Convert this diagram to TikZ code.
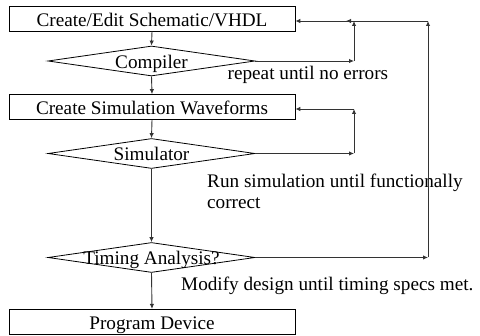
\documentclass[tikz,border=0pt]{standalone}
\usepackage{fontspec}
\setmainfont{Liberation Serif}
\usetikzlibrary{shapes.geometric,arrows.meta}
\tikzset{
  txt/.style={font=\fontsize{19.2}{21}\selectfont, inner sep=0pt},
  stepbox/.style={draw=black, line width=0.8pt, minimum width=286pt, minimum height=25pt,
    inner sep=0pt, text height=16pt, text depth=0pt, font=\fontsize{19.2}{21}\selectfont},
  decision/.style={draw=black, line width=0.8pt, shape=diamond, minimum width=207pt,
    minimum height=30pt, inner sep=0pt},
  dlabel/.style={font=\fontsize{19.2}{21}\selectfont, inner sep=0pt, text height=15pt, text depth=0pt},
  conn/.style={draw=black!80, line width=0.9pt, -{Latex[length=5pt,width=4.5pt]}},
  line/.style={draw=black!80, line width=0.9pt}
}
\begin{document}
\begin{tikzpicture}[x=1pt,y=-1pt]
\useasboundingbox (0,0) rectangle (480,336);
% boxes
\node[stepbox] (edit) at (152,18.5) {Create/Edit Schematic/VHDL};
\node[decision, label={[dlabel]center:Compiler}] (comp) at (151.5,61) {};
\node[stepbox] (wave) at (152,107) {Create Simulation Waveforms};
\node[decision, label={[dlabel]center:Simulator}] (sim) at (151.5,153.5) {};
\node[decision, label={[dlabel]center:Timing Analysis?}] (tim) at (151.5,257.5) {};
\node[stepbox] (prog) at (152,321.8) {Program Device};
% texts
\node[txt, anchor=base west] (t1) at (227.5,80) {repeat until no errors};
\node[txt, anchor=base west] (t2) at (207,188) {Run simulation until functionally};
\node[txt, anchor=base west] (t3) at (207,209) {correct};
\node[txt, anchor=base west] (t4) at (181,290.5) {Modify design until timing specs met.};
% coordinates
\coordinate (ca) at (354,61);
\coordinate (cb) at (354,21);
\coordinate (sa) at (354,153.5);
\coordinate (sb) at (354,109);
\coordinate (ta) at (428,257.5);
\coordinate (tb) at (428,21);
\coordinate (tc) at (346,21);
% main flow
\draw[conn] (edit.south) -- (comp.north);
\draw[conn] (comp.south) -- (wave.north);
\draw[conn] (wave.south) -- (sim.north);
\draw[conn] (sim.south) -- (tim.north);
\draw[conn] (tim.south) -- (prog.north);
% compiler loop
\draw[conn] (comp.east) -- (ca);
\draw[conn] (ca) -- (cb);
\draw[conn] (cb) -- (cb -| edit.east);
% simulator loop
\draw[conn] (sim.east) -- (sa);
\draw[conn] (sa) -- (sb);
\draw[conn] (sb) -- (sb -| wave.east);
% timing loop
\draw[conn] (tim.east) -- (ta);
\draw[conn] (ta) -- (tb);
\draw[conn] (tb) -- (tc);
\end{tikzpicture}
\end{document}
